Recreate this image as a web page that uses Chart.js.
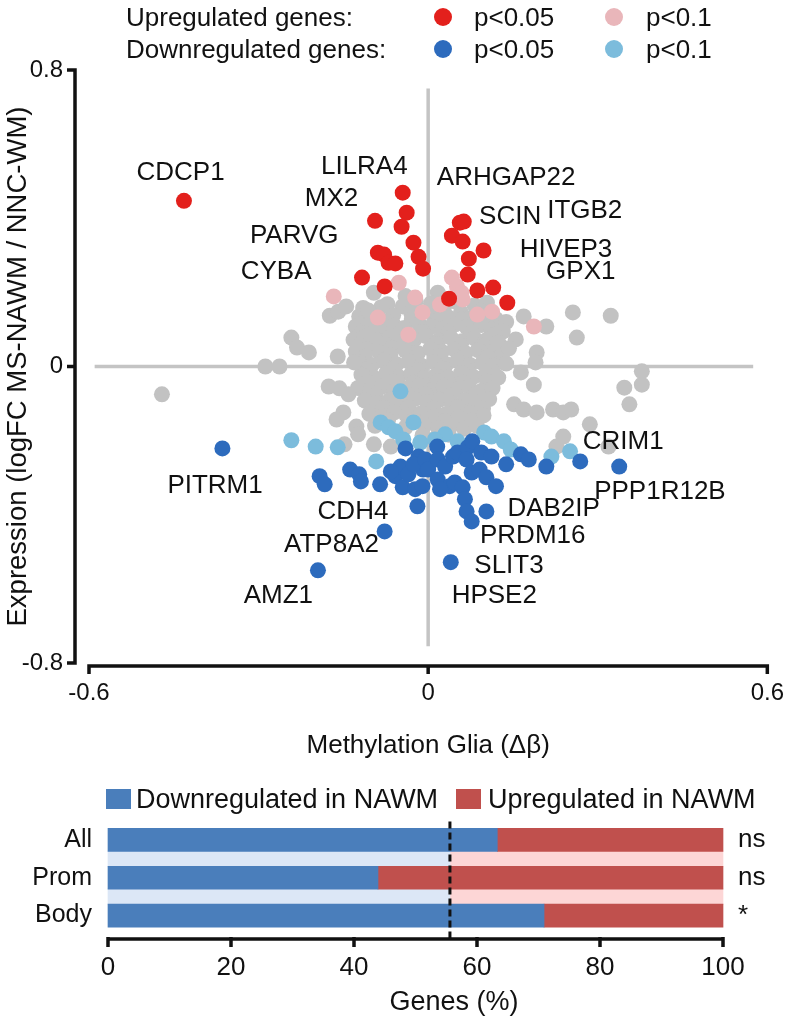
<!DOCTYPE html>
<html>
<head>
<meta charset="utf-8">
<title>Methylation vs expression</title>
<script src="https://cdn.jsdelivr.net/npm/chart.js@4.4.1/dist/chart.umd.min.js"></script>
<style>
  body { margin: 0; background: #fff; font-family: "Liberation Sans", Arial, sans-serif; color: #111; }
  #page { position: relative; width: 800px; height: 1021px; overflow: hidden; }
  #scatter { position: absolute; left: 0; top: 0; }
  #bars { position: absolute; left: 0; top: 762px; }
  .lg { position: absolute; white-space: nowrap; line-height: 30px; }
  .mark { position: absolute; }
</style>
</head>
<body>
<div id="page">
  <canvas id="scatter" width="800" height="762"></canvas>
  <canvas id="bars" width="800" height="259"></canvas>
</div>
<script>
// ---- scatter: methylation glia (delta beta) vs expression (logFC) ----
var upSig = [
  [-0.432, 0.447], [-0.045, 0.469], [-0.038, 0.415], [-0.094, 0.393], [-0.047, 0.377],
  [-0.026, 0.334], [-0.089, 0.307], [-0.078, 0.302], [-0.070, 0.280], [-0.058, 0.278],
  [-0.017, 0.296], [-0.009, 0.264], [-0.117, 0.240], [-0.077, 0.216], [0.056, 0.388],
  [0.063, 0.391], [0.042, 0.353], [0.061, 0.337], [0.098, 0.313], [0.072, 0.291],
  [0.070, 0.248], [0.087, 0.205], [0.115, 0.213], [0.037, 0.183], [0.140, 0.172]
];
var upTrend = [
  [-0.052, 0.226], [-0.167, 0.189], [-0.023, 0.186], [-0.010, 0.146], [-0.089, 0.132],
  [-0.035, 0.086], [0.042, 0.240], [0.051, 0.216], [0.059, 0.199], [0.061, 0.181],
  [0.087, 0.140], [0.113, 0.148], [0.187, 0.108], [0.021, 0.167]
];
var downSig = [
  [-0.364, -0.221], [-0.195, -0.550], [-0.077, -0.445], [-0.192, -0.296], [-0.183, -0.318],
  [-0.138, -0.278], [-0.122, -0.291], [-0.119, -0.310], [-0.085, -0.318], [-0.058, -0.296],
  [-0.049, -0.270], [-0.045, -0.326], [-0.035, -0.291], [-0.023, -0.331], [-0.010, -0.323],
  [-0.009, -0.278], [-0.040, -0.221], [-0.017, -0.243], [-0.026, -0.264], [-0.019, -0.377],
  [-0.005, -0.251], [0.000, -0.278], [0.017, -0.305], [0.038, -0.323], [0.047, -0.313],
  [0.016, -0.216], [0.017, -0.251], [0.030, -0.270], [0.044, -0.243], [0.052, -0.232],
  [0.070, -0.218], [0.078, -0.202], [0.094, -0.232], [0.112, -0.243], [0.068, -0.251],
  [0.077, -0.286], [0.091, -0.278], [0.103, -0.299], [0.120, -0.323], [0.061, -0.326],
  [0.065, -0.358], [0.068, -0.391], [0.077, -0.418], [0.103, -0.391], [0.040, -0.528],
  [0.138, -0.264], [0.164, -0.237], [0.178, -0.251], [0.209, -0.270], [0.269, -0.256],
  [0.338, -0.270], [-0.066, -0.283], [0.021, -0.331]
];
var downTrend = [
  [-0.242, -0.199], [-0.199, -0.216], [-0.160, -0.218], [-0.092, -0.256], [-0.084, -0.151],
  [-0.070, -0.164], [-0.058, -0.175], [-0.026, -0.151], [-0.049, -0.067], [0.030, -0.183],
  [0.052, -0.202], [0.099, -0.178], [0.112, -0.189], [0.134, -0.202], [0.146, -0.224],
  [0.251, -0.229], [0.218, -0.243], [-0.044, -0.197], [-0.014, -0.205], [0.012, -0.197]
];
var notSig = [
  // dense centre
  [-0.096, 0.199], [0.017, 0.199], [-0.040, 0.190], [-0.022, 0.176], [0.047, 0.176], [-0.083, 0.160],
  [-0.115, 0.158], [-0.072, 0.168], [-0.045, 0.162], [0.005, 0.170], [0.028, 0.160], [0.082, 0.165], [0.104, 0.172],
  [-0.122, 0.135], [-0.100, 0.142], [-0.062, 0.138], [-0.030, 0.145], [0.012, 0.140], [0.036, 0.132],
  [0.058, 0.146], [0.074, 0.130], [0.120, 0.128], [0.138, 0.120], [0.095, 0.150],
  [-0.111, 0.125], [-0.073, 0.122], [-0.029, 0.128], [0.017, 0.124], [0.059, 0.127], [0.103, 0.124],
  [-0.128, 0.108], [-0.106, 0.112], [-0.084, 0.100], [-0.060, 0.110], [-0.042, 0.104], [-0.016, 0.115],
  [0.006, 0.108], [0.026, 0.102], [0.048, 0.114], [0.068, 0.106], [0.094, 0.112], [0.112, 0.100], [0.132, 0.094],
  [-0.118, 0.090], [-0.095, 0.094], [-0.052, 0.088], [-0.010, 0.093], [0.036, 0.090], [0.077, 0.092], [0.118, 0.086],
  [-0.132, 0.072], [-0.112, 0.080], [-0.090, 0.070], [-0.068, 0.078], [-0.048, 0.066], [-0.024, 0.074],
  [-0.004, 0.082], [0.018, 0.070], [0.040, 0.078], [0.060, 0.068], [0.082, 0.076], [0.102, 0.070], [0.124, 0.064],
  [-0.121, 0.058], [-0.076, 0.060], [-0.030, 0.056], [0.014, 0.060], [0.056, 0.058], [0.098, 0.056],
  [-0.128, 0.040], [-0.108, 0.046], [-0.086, 0.038], [-0.064, 0.050], [-0.040, 0.042], [-0.018, 0.036],
  [0.004, 0.048], [0.024, 0.040], [0.046, 0.046], [0.066, 0.036], [0.088, 0.044], [0.108, 0.038], [0.130, 0.030],
  [-0.112, 0.026], [-0.067, 0.030], [-0.022, 0.024], [0.021, 0.028], [0.063, 0.024], [0.106, 0.026],
  [-0.122, 0.012], [-0.100, 0.004], [-0.078, 0.016], [-0.056, 0.006], [-0.034, 0.014], [-0.012, 0.002],
  [0.010, 0.012], [0.032, 0.006], [0.052, 0.016], [0.074, 0.004], [0.096, 0.010], [0.116, 0.002], [0.138, 0.008],
  [-0.108, -0.008], [-0.063, -0.006], [-0.019, -0.010], [0.025, -0.006], [0.069, -0.010], [0.113, -0.012],
  [-0.118, -0.022], [-0.096, -0.030], [-0.074, -0.018], [-0.052, -0.028], [-0.030, -0.020], [-0.008, -0.032],
  [0.014, -0.024], [0.036, -0.030], [0.058, -0.018], [0.080, -0.028], [0.102, -0.022], [0.124, -0.030],
  [-0.107, -0.042], [-0.062, -0.040], [-0.026, -0.044], [0.017, -0.040], [0.061, -0.044], [0.104, -0.040],
  [-0.124, -0.058], [-0.102, -0.064], [-0.082, -0.054], [-0.060, -0.066], [-0.038, -0.060], [-0.016, -0.052],
  [0.006, -0.064], [0.028, -0.056], [0.050, -0.062], [0.072, -0.054], [0.094, -0.066], [0.114, -0.058],
  [-0.093, -0.076], [-0.049, -0.078], [-0.005, -0.074], [0.039, -0.078], [0.083, -0.076],
  [-0.112, -0.092], [-0.090, -0.100], [-0.068, -0.090], [-0.046, -0.098], [-0.024, -0.088], [-0.002, -0.096],
  [0.020, -0.090], [0.042, -0.100], [0.064, -0.092], [0.086, -0.098], [0.108, -0.088],
  [-0.079, -0.112], [-0.035, -0.110], [0.009, -0.114], [0.053, -0.110], [0.097, -0.114],
  [-0.104, -0.128], [-0.082, -0.134], [-0.060, -0.124], [-0.038, -0.132], [-0.012, -0.126], [0.010, -0.134],
  [0.032, -0.128], [0.054, -0.136], [0.076, -0.126], [0.098, -0.132],
  [-0.071, -0.146], [-0.025, -0.144], [0.029, -0.148], [0.075, -0.146],
  [-0.094, -0.160], [-0.040, -0.164], [-0.006, -0.158], [0.018, -0.166], [0.040, -0.160], [0.064, -0.168], [0.086, -0.160],
  [-0.010, -0.186], [0.014, -0.192], [0.036, -0.184],
  // scattered
  [-0.471, -0.075], [-0.288, 0.000], [-0.263, 0.000], [-0.242, 0.078], [-0.232, 0.051], [-0.211, 0.038],
  [-0.160, 0.027], [-0.131, 0.011], [-0.174, 0.137], [-0.159, 0.148], [-0.145, 0.162], [-0.106, 0.151],
  [0.169, 0.135], [0.209, 0.108], [0.256, 0.146], [0.323, 0.137], [0.263, 0.078], [0.155, 0.073],
  [0.143, 0.049], [0.192, 0.038], [0.190, 0.011], [0.164, -0.016], [0.378, -0.013], [0.378, -0.049],
  [0.347, -0.057], [0.356, -0.102], [0.187, -0.049], [0.152, -0.102], [0.169, -0.116], [0.192, -0.124],
  [0.221, -0.116], [0.239, -0.124], [0.253, -0.116], [0.286, -0.156], [0.239, -0.189], [0.227, -0.216],
  [0.319, -0.216], [-0.176, -0.054], [-0.157, -0.059], [-0.141, -0.075], [-0.150, -0.124], [-0.162, -0.143],
  [-0.127, -0.162], [-0.124, -0.183], [-0.096, -0.210], [-0.148, -0.210], [-0.066, -0.216]
];
var zeroLineX = [[-0.59, 0], [0.575, 0]];
var zeroLineY = [[0, -0.755], [0, 0.75]];
var methTicks = [-0.6, 0, 0.6];
var exprTicks = [-0.8, 0, 0.8];
var geneNames = ['LILRA4', 'CDCP1', 'MX2', 'PARVG', 'CYBA', 'ARHGAP22', 'SCIN', 'ITGB2', 'HIVEP3', 'GPX1',
  'PITRM1', 'CDH4', 'ATP8A2', 'AMZ1', 'CRIM1', 'PPP1R12B', 'DAB2IP', 'PRDM16', 'SLIT3', 'HPSE2'];
var geneLabelX = [-0.113, -0.438, -0.171, -0.237, -0.269, 0.138, 0.145, 0.277, 0.244, 0.270,
  -0.377, -0.133, -0.171, -0.265, 0.345, 0.410, 0.222, 0.185, 0.143, 0.117];
var geneLabelY = [0.539, 0.523, 0.453, 0.353, 0.256, 0.509, 0.404, 0.420, 0.315, 0.256,
  -0.323, -0.391, -0.480, -0.620, -0.202, -0.337, -0.383, -0.456, -0.539, -0.620];

// ---- bars: direction of expression change per region ----
var groups = ['All', 'Prom', 'Body'];
var downPct = [63.3, 43.9, 70.9];
var upPct = [36.7, 56.1, 29.1];
var expectedDown = 55.6;
var significance = ['ns', 'ns', '*'];
var pctTicks = [0, 20, 40, 60, 80, 100];

var colors = {
  up: '#e3201c', upTrend: '#e9b6ba', down: '#2d6bbd', downTrend: '#7cbcdc',
  grey: '#c2c2c2', zero: '#c4c4c4', ink: '#111111',
  barDown: '#4a7ebb', barUp: '#c0504d', bandDown: '#dce7f6', bandUp: '#fdd6d6'
};
var fontStack = '"Liberation Sans", Arial, sans-serif';

Chart.defaults.font.family = fontStack;
Chart.defaults.color = colors.ink;

function pts(arr) {
  return arr.map(function(p) { return { x: p[0], y: p[1] }; });
}

function fmtTick(v) {
  return Math.abs(v) < 1e-9 ? '0' : v.toFixed(1);
}

function dots(label, arr, color) {
  return {
    label: label, data: pts(arr), backgroundColor: color, borderWidth: 0,
    pointRadius: 8, pointHoverRadius: 8
  };
}

function zeroLine(arr) {
  return {
    data: pts(arr), showLine: true, borderColor: colors.zero, borderWidth: 3.5,
    pointRadius: 0, fill: false
  };
}

// axis lines drawn detached from the plot like the original figure
var scatterAxes = {
  id: 'scatterAxes',
  afterDraw: function(chart) {
    var ctx = chart.ctx, a = chart.chartArea, xs = chart.scales.x, ys = chart.scales.y;
    var axX = a.left - 14, axY = a.bottom + 3;
    ctx.save();
    ctx.strokeStyle = colors.ink;
    ctx.lineWidth = 3.5;
    ctx.beginPath();
    ctx.moveTo(axX - 8, ys.getPixelForValue(ys.max));
    ctx.lineTo(axX, ys.getPixelForValue(ys.max));
    ctx.lineTo(axX, ys.getPixelForValue(ys.min));
    ctx.lineTo(axX - 8, ys.getPixelForValue(ys.min));
    ctx.moveTo(axX - 8, ys.getPixelForValue(0));
    ctx.lineTo(axX, ys.getPixelForValue(0));
    ctx.moveTo(xs.getPixelForValue(xs.min), axY + 8);
    ctx.lineTo(xs.getPixelForValue(xs.min), axY);
    ctx.lineTo(xs.getPixelForValue(xs.max), axY);
    ctx.lineTo(xs.getPixelForValue(xs.max), axY + 8);
    ctx.moveTo(xs.getPixelForValue(0), axY);
    ctx.lineTo(xs.getPixelForValue(0), axY + 8);
    ctx.stroke();

    ctx.fillStyle = colors.ink;
    ctx.font = '26px ' + fontStack;
    ctx.textAlign = 'center';
    ctx.textBaseline = 'middle';
    geneNames.forEach(function(name, i) {
      ctx.fillText(name, xs.getPixelForValue(geneLabelX[i]), ys.getPixelForValue(geneLabelY[i]));
    });
    ctx.restore();
  }
};

new Chart(document.getElementById('scatter'), {
  type: 'scatter',
  data: {
    datasets: [
      dots('Upregulated p<0.05', upSig, colors.up),
      dots('Downregulated p<0.05', downSig, colors.down),
      dots('Upregulated p<0.1', upTrend, colors.upTrend),
      dots('Downregulated p<0.1', downTrend, colors.downTrend),
      dots('Not significant', notSig, colors.grey),
      zeroLine(zeroLineX),
      zeroLine(zeroLineY)
    ]
  },
  options: {
    responsive: false,
    animation: false,
    events: [],
    layout: { padding: { left: 0, right: 23, top: 70, bottom: 0 } },
    plugins: { legend: { display: false }, tooltip: { enabled: false } },
    scales: {
      x: {
        min: -0.6, max: 0.6,
        afterBuildTicks: function(s) { s.ticks = methTicks.map(function(v) { return { value: v }; }); },
        afterFit: function(s) { s.height = 99; },
        grid: { display: false, drawTicks: false },
        border: { display: false },
        ticks: { padding: 16, font: { size: 24 }, callback: fmtTick, autoSkip: false, maxRotation: 0 },
        title: { display: true, text: 'Methylation Glia (Δβ)', font: { size: 26 }, padding: { top: 0, bottom: 1 } }
      },
      y: {
        min: -0.8, max: 0.8,
        afterBuildTicks: function(s) { s.ticks = exprTicks.map(function(v) { return { value: v }; }); },
        afterFit: function(s) { s.width = 89; },
        grid: { display: false, drawTicks: false },
        border: { display: false },
        ticks: { padding: 26, font: { size: 24 }, callback: fmtTick, autoSkip: false },
        title: { display: true, text: 'Expression (logFC MS-NAWM / NNC-WM)', font: { size: 27.5 }, padding: { top: 2, bottom: 0 } }
      }
    }
  },
  plugins: [scatterAxes]
});

// ---- bar chart ----
var barLabels = [];
var downRow = [], upRow = [], bandDownRow = [], bandUpRow = [];
groups.forEach(function(g, i) {
  if (i > 0) {
    barLabels.push('');
    downRow.push(null); upRow.push(null);
    bandDownRow.push(expectedDown); bandUpRow.push(100 - expectedDown);
  }
  barLabels.push(g);
  downRow.push(downPct[i]); upRow.push(upPct[i]);
  bandDownRow.push(null); bandUpRow.push(null);
});

var barExtras = {
  id: 'barExtras',
  afterDatasetsDraw: function(chart) {
    var ctx = chart.ctx, a = chart.chartArea, xs = chart.scales.x, ys = chart.scales.y;
    var axY = a.bottom + 14;
    var dx = xs.getPixelForValue(expectedDown);
    ctx.save();
    ctx.strokeStyle = colors.ink;
    ctx.lineWidth = 3;
    ctx.setLineDash([7, 4]);
    ctx.beginPath();
    ctx.moveTo(dx, a.top - 9);
    ctx.lineTo(dx, axY);
    ctx.stroke();
    ctx.setLineDash([]);

    ctx.lineWidth = 3.5;
    ctx.beginPath();
    ctx.moveTo(xs.getPixelForValue(0), axY);
    ctx.lineTo(xs.getPixelForValue(100), axY);
    pctTicks.forEach(function(v) {
      var px = xs.getPixelForValue(v);
      ctx.moveTo(px, axY - 2);
      ctx.lineTo(px, axY + 8);
    });
    ctx.stroke();

    ctx.fillStyle = colors.ink;
    ctx.font = '26px ' + fontStack;
    ctx.textAlign = 'left';
    ctx.textBaseline = 'middle';
    significance.forEach(function(s, i) {
      ctx.fillText(s, xs.getPixelForValue(100) + 15, ys.getPixelForValue(i * 2));
    });

    // axis title centred under bars plus the significance column
    ctx.font = '27px ' + fontStack;
    ctx.textAlign = 'center';
    ctx.fillText('Genes (%)', (a.left + chart.width) / 2, a.bottom + 78);
    ctx.restore();
  }
};

function barSet(label, data, color, thick) {
  return { label: label, data: data, backgroundColor: color, borderWidth: 0, barThickness: thick, clip: false };
}

new Chart(document.getElementById('bars'), {
  type: 'bar',
  data: {
    labels: barLabels,
    datasets: [
      barSet('Downregulated in NAWM', downRow, colors.barDown, 23),
      barSet('Upregulated in NAWM', upRow, colors.barUp, 23),
      barSet('expected down', bandDownRow, colors.bandDown, 16),
      barSet('expected up', bandUpRow, colors.bandUp, 16)
    ]
  },
  options: {
    indexAxis: 'y',
    responsive: false,
    animation: false,
    events: [],
    layout: { padding: { left: 0, right: 77, top: 68.5, bottom: 0 } },
    plugins: { legend: { display: false }, tooltip: { enabled: false } },
    scales: {
      x: {
        stacked: true, min: 0, max: 100,
        afterBuildTicks: function(s) { s.ticks = pctTicks.map(function(v) { return { value: v }; }); },
        afterFit: function(s) { s.height = 96; },
        grid: { display: false, drawTicks: false },
        border: { display: false },
        ticks: { padding: 27, font: { size: 26 }, autoSkip: false, maxRotation: 0 }
      },
      y: {
        stacked: true,
        afterFit: function(s) { s.width = 108; },
        grid: { display: false, drawTicks: false },
        border: { display: false },
        ticks: { padding: 16, font: { size: 25 }, autoSkip: false }
      }
    }
  },
  plugins: [barExtras]
});

// ---- html legends ----
var page = document.getElementById('page');
function addText(txt, left, midY, size) {
  var d = document.createElement('div');
  d.className = 'lg';
  d.textContent = txt;
  d.style.left = left + 'px';
  d.style.top = (midY - 15) + 'px';
  d.style.fontSize = size + 'px';
  page.appendChild(d);
}
function addMark(color, cx, cy, w, h, round) {
  var m = document.createElement('span');
  m.className = 'mark';
  m.style.left = (cx - w / 2) + 'px';
  m.style.top = (cy - h / 2) + 'px';
  m.style.width = w + 'px';
  m.style.height = h + 'px';
  m.style.background = color;
  if (round) m.style.borderRadius = '50%';
  page.appendChild(m);
}

addText('Upregulated genes:', 126, 17, 26);
addMark(colors.up, 443, 17, 18, 18, true);
addText('p<0.05', 474, 17, 26);
addMark(colors.upTrend, 614, 17, 18, 18, true);
addText('p<0.1', 646, 17, 26);
addText('Downregulated genes:', 126, 49, 26);
addMark(colors.down, 443, 49, 18, 18, true);
addText('p<0.05', 474, 49, 26);
addMark(colors.downTrend, 614, 49, 18, 18, true);
addText('p<0.1', 646, 49, 26);

addMark(colors.barDown, 118, 799, 25, 20, false);
addText('Downregulated in NAWM', 136, 799, 27);
addMark(colors.barUp, 468, 799, 25, 20, false);
addText('Upregulated in NAWM', 488, 799, 27);
</script>
</body>
</html>
